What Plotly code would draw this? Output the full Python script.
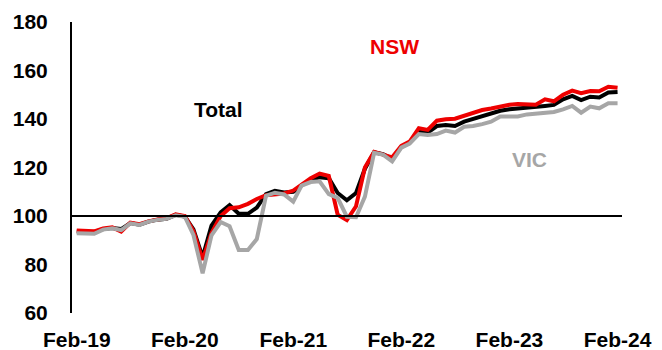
import pandas as pd
import plotly.graph_objects as go

# Monthly index, Feb-19 to Feb-24
months = pd.date_range("2019-02-01", "2024-02-01", freq="MS")

total = [93.6, 93.5, 93.3, 94.6, 95.0, 94.6, 97.1, 96.4, 97.7, 98.5, 98.9, 100.5,
         99.8, 94.5, 83.0, 96.0, 101.5, 104.5, 100.9, 100.9, 103.5, 109.0, 110.4, 109.7,
         110.0, 112.6, 115.0, 116.0, 115.6, 109.5, 106.5, 109.5, 119.5, 126.3, 125.5, 123.5,
         128.5, 130.2, 135.2, 134.4, 137.1, 137.5, 137.1, 138.9, 140.1, 141.2, 142.3, 143.4,
         144.0, 144.3, 144.4, 144.8, 145.4, 145.8, 148.1, 149.5, 147.8, 149.2, 148.9, 150.9,
         151.1]

nsw = [94.0, 93.8, 93.7, 94.9, 95.3, 93.6, 97.3, 96.6, 97.8, 98.6, 99.0, 100.7,
       100.0, 93.8, 81.9, 93.0, 100.0, 103.2, 103.6, 105.0, 107.0, 108.6, 109.0, 109.3,
       110.5, 113.0, 115.6, 117.5, 116.5, 100.5, 98.3, 104.0, 120.0, 126.4, 125.4, 124.2,
       128.9, 130.7, 136.2, 135.5, 139.3, 139.9, 140.1, 141.2, 142.6, 143.7, 144.3, 145.1,
       145.9, 146.2, 145.9, 145.9, 148.1, 147.3, 150.0, 151.7, 150.6, 151.5, 151.4, 153.3,
       152.9]

vic = [92.9, 92.7, 92.7, 94.4, 94.9, 94.2, 97.0, 96.3, 97.7, 98.4, 98.8, 100.3,
       99.7, 92.2, 76.4, 92.0, 97.5, 95.8, 86.0, 86.0, 90.5, 108.3, 109.6, 108.9,
       105.9, 112.5, 114.0, 114.3, 109.0, 107.5, 99.7, 99.5, 108.0, 126.0, 125.3, 122.5,
       128.2, 129.9, 133.8, 133.4, 133.8, 135.2, 134.4, 136.8, 137.1, 137.9, 138.9, 141.0,
       141.2, 141.0, 141.9, 142.3, 142.6, 142.9, 144.0, 145.4, 142.6, 145.1, 144.4, 146.5,
       146.5]

y_ticks = [60, 80, 100, 120, 140, 160, 180]

FONT = "Liberation Sans, Arial, sans-serif"

fig = go.Figure()
series = [("Total", total, "#000000"), ("NSW", nsw, "#EE0000"), ("VIC", vic, "#A6A6A6")]
for name, vals, col in series:
    fig.add_trace(go.Scatter(x=months, y=vals, mode="lines", name=name,
                             line=dict(color=col, width=4)))

# Reference line at 100
fig.add_shape(type="line", xref="paper", yref="y", x0=0, x1=1, y0=100, y1=100,
              line=dict(color="#000000", width=2))

labels = [("NSW", "2022-01-10", 170.0, "#EE0000"),
          ("Total", "2020-05-25", 144.0, "#000000"),
          ("VIC", "2023-04-10", 123.5, "#A6A6A6")]
for txt, xd, yv, col in labels:
    fig.add_annotation(x=xd, y=yv, text=f"<b>{txt}</b>", showarrow=False,
                       font=dict(family=FONT, size=21, color=col))

fig.update_layout(
    width=662, height=350,
    margin=dict(l=72, r=40, t=22, b=37),
    paper_bgcolor="white", plot_bgcolor="white",
    showlegend=False,
    font=dict(family=FONT, size=21, color="#000000"),
)
fig.update_xaxes(
    type="date", automargin=False,
    range=["2019-01-16", "2024-02-16"],
    tick0="2019-02-01", dtick="M12", tickformat="%b-%y",
    showgrid=False, zeroline=False, showline=False, ticks="",
    tickfont=dict(family=FONT, size=21, color="#000000"),
    ticklabelstandoff=12,
)
fig.update_yaxes(
    automargin=False,
    range=[60, 180], tickvals=y_ticks,
    showgrid=False, zeroline=False, showline=True,
    linecolor="#000000", linewidth=2, ticks="",
    tickfont=dict(family=FONT, size=21, color="#000000"),
    ticklabelstandoff=18,
)
for ax in ("xaxis", "yaxis"):
    fig.layout[ax].tickfont.weight = "bold"

fig.write_html("out.html")
